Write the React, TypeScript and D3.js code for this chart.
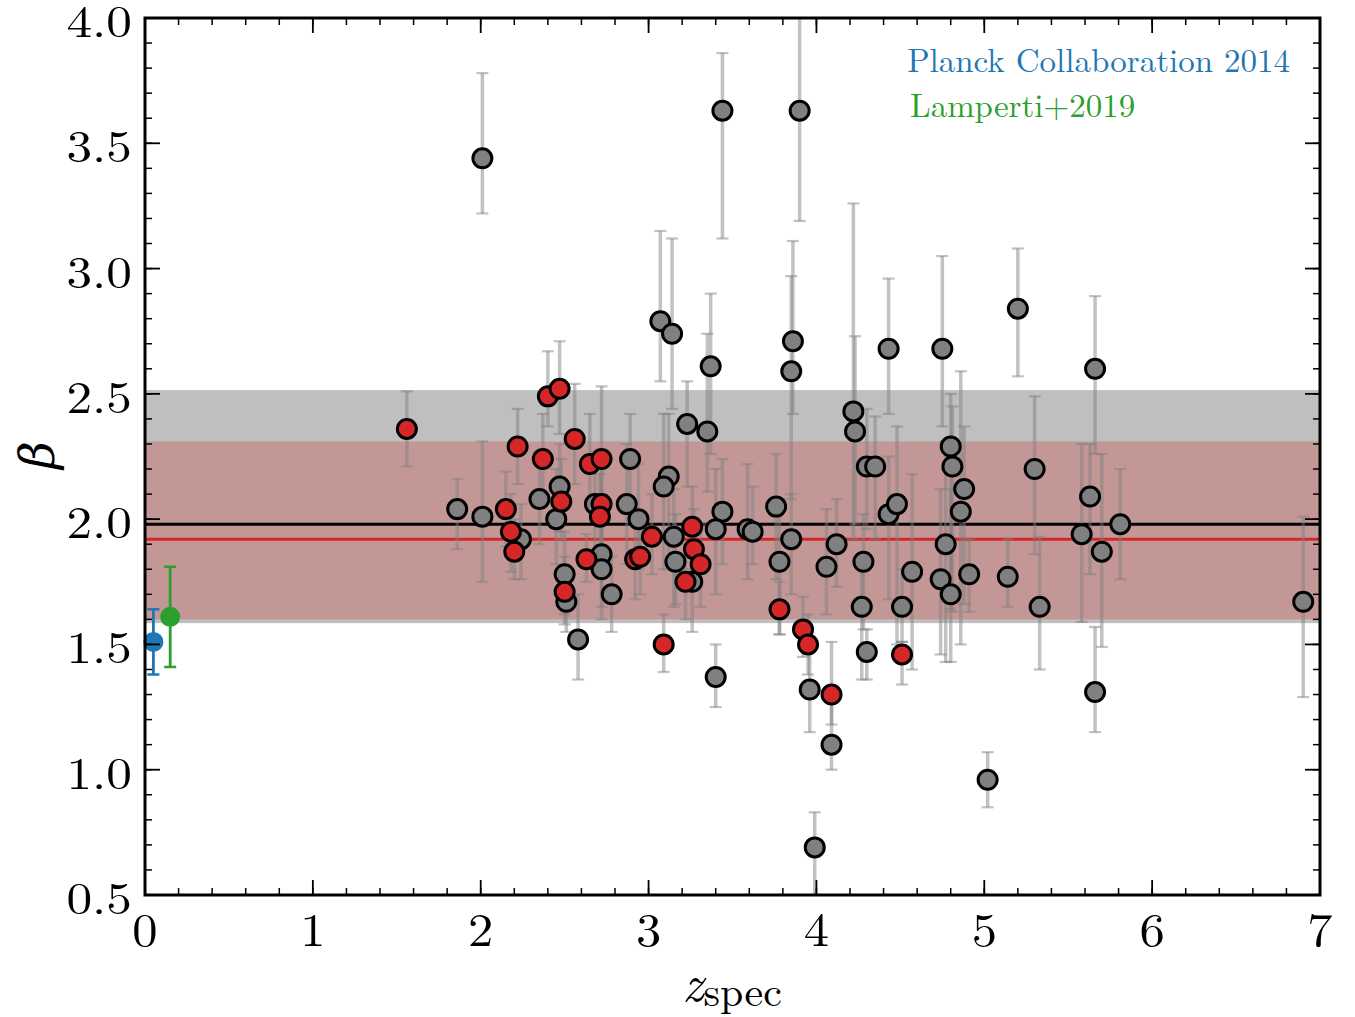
import React from "react";
import * as d3 from "d3";

// [z, beta, lowerEnd, upperEnd]
const grayPoints: number[][] = [
  [2.01, 3.44, 3.22, 3.78],
  [3.44, 3.63, 3.12, 3.86],
  [3.90, 3.63, 3.19, 4.05],
  [3.07, 2.79, 2.55, 3.15],
  [3.14, 2.74, 2.44, 3.12],
  [3.37, 2.61, 2.26, 2.90],
  [3.86, 2.71, 2.42, 3.11],
  [3.85, 2.59, 2.08, 2.97],
  [4.22, 2.43, 1.92, 3.26],
  [4.23, 2.35, 1.98, 2.73],
  [4.43, 2.68, 2.42, 2.96],
  [4.75, 2.68, 2.37, 3.05],
  [5.20, 2.84, 2.57, 3.08],
  [5.66, 2.60, 2.26, 2.89],
  [4.80, 2.29, 1.64, 2.50],
  [4.81, 2.21, 1.63, 2.45],
  [4.88, 2.12, 1.66, 2.37],
  [4.86, 2.03, 1.50, 2.59],
  [4.77, 1.90, 1.43, 2.31],
  [5.30, 2.20, 1.86, 2.49],
  [5.63, 2.09, 1.78, 2.30],
  [5.81, 1.98, 1.76, 2.20],
  [5.58, 1.94, 1.59, 2.30],
  [5.70, 1.87, 1.49, 2.26],
  [6.90, 1.67, 1.29, 2.01],
  [5.66, 1.31, 1.15, 1.57],
  [5.02, 0.96, 0.85, 1.07],
  [5.33, 1.65, 1.40, 1.93],
  [5.14, 1.77, 1.65, 1.92],
  [4.91, 1.78, 1.63, 1.92],
  [4.74, 1.76, 1.46, 2.12],
  [4.80, 1.70, 1.43, 2.12],
  [4.57, 1.79, 1.40, 2.18],
  [4.51, 1.65, 1.51, 1.80],
  [4.43, 2.02, 1.68, 2.25],
  [4.48, 2.06, 1.50, 2.37],
  [4.30, 2.21, 1.96, 2.44],
  [4.35, 2.21, 1.92, 2.41],
  [4.28, 1.83, 1.56, 2.02],
  [4.27, 1.65, 1.36, 1.83],
  [4.30, 1.47, 1.36, 1.56],
  [4.12, 1.90, 1.73, 2.08],
  [4.06, 1.81, 1.62, 2.04],
  [3.85, 1.92, 1.70, 2.10],
  [3.78, 1.83, 1.54, 2.08],
  [3.76, 2.05, 1.76, 2.26],
  [3.59, 1.96, 1.76, 2.22],
  [3.62, 1.95, 1.82, 2.13],
  [3.96, 1.32, 1.15, 1.52],
  [4.09, 1.10, 1.00, 1.30],
  [3.99, 0.69, 0.45, 0.83],
  [3.40, 1.37, 1.25, 1.50],
  [3.35, 2.35, 2.11, 2.74],
  [3.23, 2.38, 2.13, 2.55],
  [3.44, 2.03, 1.82, 2.24],
  [3.40, 1.96, 1.70, 2.20],
  [3.15, 1.93, 1.65, 2.12],
  [3.12, 2.17, 1.80, 2.42],
  [3.09, 2.13, 1.80, 2.42],
  [3.16, 1.83, 1.66, 2.02],
  [3.26, 1.75, 1.55, 1.95],
  [2.89, 2.24, 2.05, 2.42],
  [2.87, 2.06, 1.82, 2.30],
  [2.94, 2.00, 1.80, 2.22],
  [2.68, 2.06, 1.85, 2.27],
  [2.72, 1.86, 1.65, 2.10],
  [2.72, 1.80, 1.60, 2.00],
  [2.78, 1.70, 1.55, 1.85],
  [2.47, 2.13, 1.95, 2.30],
  [2.45, 2.00, 1.82, 2.20],
  [2.35, 2.08, 1.90, 2.27],
  [2.50, 1.78, 1.62, 1.95],
  [2.51, 1.67, 1.55, 1.80],
  [2.58, 1.52, 1.36, 1.70],
  [2.24, 1.92, 1.76, 2.06],
  [1.86, 2.04, 1.88, 2.16],
  [2.01, 2.01, 1.75, 2.31],
];

const redPoints: number[][] = [
  [1.56, 2.36, 2.21, 2.51],
  [2.15, 2.04, 1.89, 2.19],
  [2.18, 1.95, 1.79, 2.10],
  [2.20, 1.87, 1.76, 2.00],
  [2.22, 2.29, 2.14, 2.44],
  [2.37, 2.24, 2.08, 2.42],
  [2.40, 2.49, 2.37, 2.67],
  [2.47, 2.52, 2.34, 2.71],
  [2.48, 2.07, 1.92, 2.24],
  [2.50, 1.71, 1.58, 1.85],
  [2.56, 2.32, 2.14, 2.54],
  [2.63, 1.84, 1.75, 1.94],
  [2.65, 2.22, 2.05, 2.42],
  [2.72, 2.24, 2.06, 2.53],
  [2.72, 2.06, 1.88, 2.25],
  [2.71, 2.01, 1.84, 2.18],
  [2.92, 1.84, 1.68, 2.02],
  [2.95, 1.85, 1.70, 2.00],
  [3.02, 1.93, 1.78, 2.10],
  [3.09, 1.50, 1.39, 1.62],
  [3.26, 1.97, 1.80, 2.13],
  [3.27, 1.88, 1.72, 2.04],
  [3.31, 1.82, 1.65, 1.98],
  [3.22, 1.75, 1.60, 1.90],
  [3.78, 1.64, 1.54, 1.75],
  [3.92, 1.56, 1.45, 1.69],
  [3.95, 1.50, 1.38, 1.62],
  [4.09, 1.30, 1.18, 1.51],
  [4.51, 1.46, 1.34, 1.51],
];

// reference points: [z, beta, lower, upper]
const planck = [0.05, 1.51, 1.38, 1.64];
const lamperti = [0.15, 1.61, 1.41, 1.81];

const grayBand = [1.585, 2.515];
const redBand = [1.60, 2.31];
const grayMean = 1.98;
const redMean = 1.92;

const xTicks = [0, 1, 2, 3, 4, 5, 6, 7];
const yTicks = [0.5, 1.0, 1.5, 2.0, 2.5, 3.0, 3.5, 4.0];

const W = 1355, H = 1017;
const L = 145, R = 1320, T = 18, B = 895;
const FONT = "'Latin Modern Roman','CMU Serif','DejaVu Serif',serif";
const ERR = "rgba(128,128,128,0.48)";

export default function App() {
  const x = d3.scaleLinear().domain([0, 7]).range([L, R]);
  const y = d3.scaleLinear().domain([0.5, 4.0]).range([B, T]);
  const xMinor = d3.range(0, 7.0001, 0.2);
  const yMinor = d3.range(0.5, 4.0001, 0.1);

  const errBar = (p: number[], key: string) => {
    const cx = x(p[0]);
    return (
      <g key={key}>
        <line x1={cx} x2={cx} y1={y(p[2])} y2={y(p[3])} stroke={ERR} strokeWidth={3.5} />
        <line x1={cx - 6} x2={cx + 6} y1={y(p[2])} y2={y(p[2])} stroke={ERR} strokeWidth={2.2} />
        <line x1={cx - 6} x2={cx + 6} y1={y(p[3])} y2={y(p[3])} stroke={ERR} strokeWidth={2.2} />
      </g>
    );
  };

  const refPoint = (p: number[], color: string) => {
    const cx = x(p[0]);
    return (
      <g>
        <line x1={cx} x2={cx} y1={y(p[2])} y2={y(p[3])} stroke={color} strokeWidth={2.8} />
        <line x1={cx - 6} x2={cx + 6} y1={y(p[2])} y2={y(p[2])} stroke={color} strokeWidth={2.5} />
        <line x1={cx - 6} x2={cx + 6} y1={y(p[3])} y2={y(p[3])} stroke={color} strokeWidth={2.5} />
        <circle cx={cx} cy={y(p[1])} r={10} fill={color} />
      </g>
    );
  };

  return (
    <svg width={W} height={H} style={{ position: "absolute", left: 0, top: 0, background: "#fff" }} fontFamily={FONT}>
      <defs>
        <clipPath id="plotclip">
          <rect x={L} y={T} width={R - L} height={B - T} />
        </clipPath>
      </defs>
      {/* bands */}
      <rect x={L} width={R - L} y={y(grayBand[1])} height={y(grayBand[0]) - y(grayBand[1])} fill="#bfbfbf" />
      <rect x={L} width={R - L} y={y(redBand[1])} height={y(redBand[0]) - y(redBand[1])} fill="#c49797" />
      {/* mean lines */}
      <line x1={L} x2={R} y1={y(grayMean)} y2={y(grayMean)} stroke="#000" strokeWidth={3} />
      <line x1={L} x2={R} y1={y(redMean)} y2={y(redMean)} stroke="#d62728" strokeWidth={3} />
      {/* error bars */}
      <g clipPath="url(#plotclip)">
        {grayPoints.map((p, i) => errBar(p, "ge" + i))}
        {redPoints.map((p, i) => errBar(p, "re" + i))}
      </g>
      {/* markers */}
      {grayPoints.map((p, i) => (
        <circle key={"g" + i} cx={x(p[0])} cy={y(p[1])} r={9.5} fill="#808080" stroke="#000" strokeWidth={3} />
      ))}
      {redPoints.map((p, i) => (
        <circle key={"r" + i} cx={x(p[0])} cy={y(p[1])} r={9.5} fill="#d62728" stroke="#000" strokeWidth={3} />
      ))}
      {refPoint(planck, "#1f77b4")}
      {refPoint(lamperti, "#2ca02c")}
      {/* ticks */}
      <g stroke="#000">
        {xMinor.map((v, i) => (
          <g key={"xm" + i}>
            <line x1={x(v)} x2={x(v)} y1={B} y2={B - 7} strokeWidth={1.5} />
            <line x1={x(v)} x2={x(v)} y1={T} y2={T + 7} strokeWidth={1.5} />
          </g>
        ))}
        {xTicks.map((v) => (
          <g key={"xM" + v}>
            <line x1={x(v)} x2={x(v)} y1={B} y2={B - 15} strokeWidth={1.8} />
            <line x1={x(v)} x2={x(v)} y1={T} y2={T + 15} strokeWidth={1.8} />
          </g>
        ))}
        {yMinor.map((v, i) => (
          <g key={"ym" + i}>
            <line x1={L} x2={L + 7} y1={y(v)} y2={y(v)} strokeWidth={1.5} />
            <line x1={R} x2={R - 7} y1={y(v)} y2={y(v)} strokeWidth={1.5} />
          </g>
        ))}
        {yTicks.map((v) => (
          <g key={"yM" + v}>
            <line x1={L} x2={L + 15} y1={y(v)} y2={y(v)} strokeWidth={1.8} />
            <line x1={R} x2={R - 15} y1={y(v)} y2={y(v)} strokeWidth={1.8} />
          </g>
        ))}
      </g>
      <rect x={L} y={T} width={R - L} height={B - T} fill="none" stroke="#000" strokeWidth={3} />
      {/* tick labels */}
      {xTicks.map((v) => (
        <text key={"xl" + v} transform={`translate(${x(v)},${B + 51}) scale(1.1,1)`} textAnchor="middle" fontSize={46} fill="#000">
          {d3.format("d")(v)}
        </text>
      ))}
      {yTicks.map((v) => (
        <text key={"yl" + v} transform={`translate(${L - 13},${y(v) + 19}) scale(1.14,1)`} textAnchor="end" fontSize={45} fill="#000">
          {d3.format(".1f")(v)}
        </text>
      ))}
      {/* axis labels */}
      <text x={732} y={1001} textAnchor="middle" fontSize={52} fill="#000">
        <tspan fontStyle="italic">z</tspan>
        <tspan fontSize={42} dy={5}>spec</tspan>
      </text>
      <text transform="translate(54,455) rotate(-90)" textAnchor="middle" fontSize={48} fontStyle="italic" fill="#000">
        β
      </text>
      {/* legend texts */}
      <text x={1290} y={72} textAnchor="end" fontSize={33} fill="#1f77b4">Planck Collaboration 2014</text>
      <text x={910} y={117} textAnchor="start" fontSize={33} fill="#2ca02c">Lamperti+2019</text>
    </svg>
  );
}
